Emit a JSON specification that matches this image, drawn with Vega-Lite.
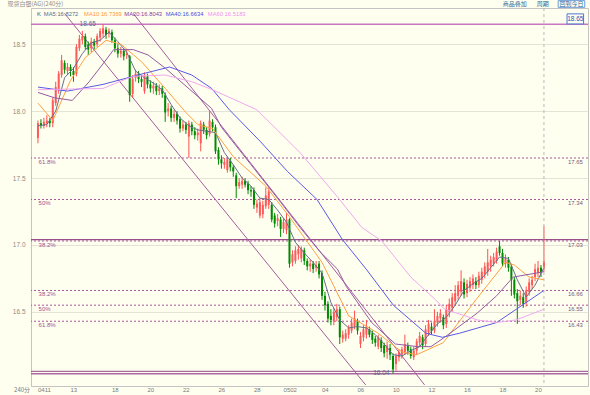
{
"$schema":"https://vega.github.io/schema/vega-lite/v6.json",
"width":557,"height":378,
"autosize":{"type":"none"},
"padding":{"left":31,"top":8,"right":2,"bottom":9},
"background":"#fffff0",
"config":{"view":{"stroke":"#c4c4c4","strokeWidth":1},"axis":{"labelFont":"Liberation Sans"},"text":{"font":"Liberation Sans"}},
"datasets":{
"k":[
{"i":0,"o":17.80,"h":17.93,"l":17.76,"c":17.91},{"i":1,"o":17.91,"h":17.94,"l":17.87,"c":17.89},{"i":2,"o":17.89,"h":17.95,"l":17.87,"c":17.92},{"i":3,"o":17.91,"h":17.97,"l":17.88,"c":17.93},{"i":4,"o":17.93,"h":17.95,"l":17.88,"c":17.91},{"i":5,"o":17.91,"h":18.10,"l":17.88,"c":18.08},{"i":6,"o":18.06,"h":18.22,"l":18.04,"c":18.18},{"i":7,"o":18.16,"h":18.30,"l":18.13,"c":18.28},{"i":8,"o":18.27,"h":18.42,"l":18.25,"c":18.38},{"i":9,"o":18.36,"h":18.38,"l":18.28,"c":18.31},
{"i":10,"o":18.30,"h":18.36,"l":18.27,"c":18.33},{"i":11,"o":18.33,"h":18.35,"l":18.26,"c":18.30},{"i":12,"o":18.30,"h":18.33,"l":18.22,"c":18.27},{"i":13,"o":18.28,"h":18.50,"l":18.26,"c":18.48},{"i":14,"o":18.47,"h":18.57,"l":18.45,"c":18.54},{"i":15,"o":18.53,"h":18.60,"l":18.50,"c":18.56},{"i":16,"o":18.56,"h":18.58,"l":18.46,"c":18.48},{"i":17,"o":18.50,"h":18.52,"l":18.42,"c":18.46},{"i":18,"o":18.47,"h":18.55,"l":18.44,"c":18.52},{"i":19,"o":18.52,"h":18.54,"l":18.46,"c":18.49},
{"i":20,"o":18.50,"h":18.58,"l":18.48,"c":18.56},{"i":21,"o":18.55,"h":18.62,"l":18.52,"c":18.60},{"i":22,"o":18.58,"h":18.65,"l":18.55,"c":18.62},{"i":23,"o":18.61,"h":18.63,"l":18.54,"c":18.57},{"i":24,"o":18.58,"h":18.62,"l":18.55,"c":18.60},{"i":25,"o":18.59,"h":18.61,"l":18.51,"c":18.53},{"i":26,"o":18.53,"h":18.55,"l":18.44,"c":18.47},{"i":27,"o":18.47,"h":18.50,"l":18.40,"c":18.43},{"i":28,"o":18.43,"h":18.48,"l":18.40,"c":18.45},{"i":29,"o":18.45,"h":18.47,"l":18.38,"c":18.41},
{"i":30,"o":18.42,"h":18.46,"l":18.39,"c":18.43},{"i":31,"o":18.41,"h":18.42,"l":18.07,"c":18.12},{"i":32,"o":18.13,"h":18.27,"l":18.10,"c":18.24},{"i":33,"o":18.25,"h":18.31,"l":18.22,"c":18.28},{"i":34,"o":18.28,"h":18.30,"l":18.21,"c":18.24},{"i":35,"o":18.24,"h":18.27,"l":18.18,"c":18.22},{"i":36,"o":18.15,"h":18.29,"l":18.13,"c":18.27},{"i":37,"o":18.26,"h":18.28,"l":18.17,"c":18.20},{"i":38,"o":18.20,"h":18.23,"l":18.14,"c":18.17},{"i":39,"o":18.17,"h":18.22,"l":18.13,"c":18.19},
{"i":40,"o":18.19,"h":18.21,"l":18.12,"c":18.15},{"i":41,"o":18.15,"h":18.20,"l":18.12,"c":18.17},{"i":42,"o":18.17,"h":18.19,"l":18.10,"c":18.13},{"i":43,"o":18.12,"h":18.14,"l":17.92,"c":17.99},{"i":44,"o":18.00,"h":18.06,"l":17.96,"c":18.02},{"i":45,"o":18.02,"h":18.04,"l":17.92,"c":17.95},{"i":46,"o":17.95,"h":18.01,"l":17.92,"c":17.98},{"i":47,"o":17.98,"h":18.00,"l":17.90,"c":17.93},{"i":48,"o":17.94,"h":17.96,"l":17.84,"c":17.87},{"i":49,"o":17.87,"h":17.93,"l":17.85,"c":17.90},
{"i":50,"o":17.90,"h":17.92,"l":17.83,"c":17.86},{"i":51,"o":17.81,"h":17.93,"l":17.65,"c":17.91},{"i":52,"o":17.90,"h":17.92,"l":17.82,"c":17.85},{"i":53,"o":17.85,"h":17.88,"l":17.79,"c":17.82},{"i":54,"o":17.82,"h":17.87,"l":17.78,"c":17.84},{"i":55,"o":17.76,"h":17.93,"l":17.70,"c":17.91},{"i":56,"o":17.90,"h":17.92,"l":17.83,"c":17.86},{"i":57,"o":17.86,"h":17.88,"l":17.79,"c":17.82},{"i":58,"o":17.83,"h":18.00,"l":17.81,"c":17.93},{"i":59,"o":17.92,"h":17.94,"l":17.85,"c":17.88},
{"i":60,"o":17.88,"h":17.90,"l":17.68,"c":17.70},{"i":61,"o":17.71,"h":17.73,"l":17.60,"c":17.64},{"i":62,"o":17.64,"h":17.67,"l":17.57,"c":17.61},{"i":63,"o":17.60,"h":17.65,"l":17.57,"c":17.62},{"i":64,"o":17.56,"h":17.66,"l":17.54,"c":17.64},{"i":65,"o":17.63,"h":17.65,"l":17.55,"c":17.58},{"i":66,"o":17.58,"h":17.60,"l":17.51,"c":17.55},{"i":67,"o":17.52,"h":17.54,"l":17.35,"c":17.44},{"i":68,"o":17.44,"h":17.50,"l":17.42,"c":17.47},{"i":69,"o":17.45,"h":17.51,"l":17.42,"c":17.48},
{"i":70,"o":17.48,"h":17.50,"l":17.43,"c":17.45},{"i":71,"o":17.46,"h":17.48,"l":17.38,"c":17.41},{"i":72,"o":17.41,"h":17.44,"l":17.36,"c":17.40},{"i":73,"o":17.41,"h":17.43,"l":17.27,"c":17.30},{"i":74,"o":17.28,"h":17.34,"l":17.24,"c":17.31},{"i":75,"o":17.22,"h":17.35,"l":17.20,"c":17.32},{"i":76,"o":17.23,"h":17.33,"l":17.20,"c":17.30},{"i":77,"o":17.29,"h":17.43,"l":17.27,"c":17.37},{"i":78,"o":17.30,"h":17.43,"l":17.27,"c":17.40},{"i":79,"o":17.30,"h":17.32,"l":17.17,"c":17.19},
{"i":80,"o":17.22,"h":17.24,"l":17.13,"c":17.16},{"i":81,"o":17.18,"h":17.23,"l":17.14,"c":17.20},{"i":82,"o":17.19,"h":17.21,"l":17.06,"c":17.12},{"i":83,"o":17.12,"h":17.20,"l":17.09,"c":17.17},{"i":84,"o":17.11,"h":17.24,"l":17.08,"c":17.19},{"i":85,"o":17.19,"h":17.20,"l":16.83,"c":16.86},{"i":86,"o":16.87,"h":16.96,"l":16.84,"c":16.93},{"i":87,"o":16.88,"h":16.99,"l":16.86,"c":16.96},{"i":88,"o":16.93,"h":17.00,"l":16.89,"c":16.97},{"i":89,"o":16.90,"h":16.99,"l":16.87,"c":16.97},
{"i":90,"o":16.96,"h":16.98,"l":16.85,"c":16.88},{"i":91,"o":16.88,"h":16.90,"l":16.81,"c":16.84},{"i":92,"o":16.84,"h":16.89,"l":16.80,"c":16.86},{"i":93,"o":16.86,"h":16.88,"l":16.79,"c":16.82},{"i":94,"o":16.83,"h":16.88,"l":16.80,"c":16.85},{"i":95,"o":16.86,"h":16.88,"l":16.75,"c":16.78},{"i":96,"o":16.79,"h":16.81,"l":16.59,"c":16.62},{"i":97,"o":16.62,"h":16.65,"l":16.51,"c":16.55},{"i":98,"o":16.56,"h":16.58,"l":16.42,"c":16.45},{"i":99,"o":16.47,"h":16.52,"l":16.40,"c":16.44},
{"i":100,"o":16.43,"h":16.53,"l":16.40,"c":16.50},{"i":101,"o":16.46,"h":16.56,"l":16.43,"c":16.52},{"i":102,"o":16.52,"h":16.54,"l":16.26,"c":16.31},{"i":103,"o":16.30,"h":16.36,"l":16.27,"c":16.33},{"i":104,"o":16.30,"h":16.37,"l":16.28,"c":16.34},{"i":105,"o":16.33,"h":16.40,"l":16.30,"c":16.38},{"i":106,"o":16.36,"h":16.45,"l":16.34,"c":16.42},{"i":107,"o":16.39,"h":16.51,"l":16.37,"c":16.45},{"i":108,"o":16.43,"h":16.45,"l":16.33,"c":16.36},{"i":109,"o":16.26,"h":16.35,"l":16.23,"c":16.32},
{"i":110,"o":16.31,"h":16.40,"l":16.28,"c":16.37},{"i":111,"o":16.33,"h":16.44,"l":16.30,"c":16.39},{"i":112,"o":16.37,"h":16.39,"l":16.31,"c":16.33},{"i":113,"o":16.34,"h":16.36,"l":16.26,"c":16.29},{"i":114,"o":16.30,"h":16.32,"l":16.24,"c":16.27},{"i":115,"o":16.24,"h":16.33,"l":16.22,"c":16.31},{"i":116,"o":16.29,"h":16.31,"l":16.20,"c":16.23},{"i":117,"o":16.25,"h":16.27,"l":16.16,"c":16.19},{"i":118,"o":16.20,"h":16.28,"l":16.15,"c":16.25},{"i":119,"o":16.23,"h":16.26,"l":16.14,"c":16.18},
{"i":120,"o":16.17,"h":16.19,"l":16.04,"c":16.07},{"i":121,"o":16.11,"h":16.19,"l":16.06,"c":16.17},{"i":122,"o":16.16,"h":16.22,"l":16.13,"c":16.20},{"i":123,"o":16.18,"h":16.24,"l":16.15,"c":16.22},{"i":124,"o":16.20,"h":16.33,"l":16.18,"c":16.26},{"i":125,"o":16.25,"h":16.27,"l":16.18,"c":16.21},{"i":126,"o":16.22,"h":16.24,"l":16.15,"c":16.17},{"i":127,"o":16.16,"h":16.24,"l":16.14,"c":16.21},{"i":128,"o":16.21,"h":16.30,"l":16.18,"c":16.28},{"i":129,"o":16.27,"h":16.35,"l":16.24,"c":16.32},
{"i":130,"o":16.31,"h":16.33,"l":16.22,"c":16.25},{"i":131,"o":16.26,"h":16.40,"l":16.24,"c":16.37},{"i":132,"o":16.35,"h":16.44,"l":16.32,"c":16.41},{"i":133,"o":16.39,"h":16.42,"l":16.33,"c":16.36},{"i":134,"o":16.36,"h":16.52,"l":16.34,"c":16.43},{"i":135,"o":16.42,"h":16.50,"l":16.39,"c":16.47},{"i":136,"o":16.45,"h":16.52,"l":16.42,"c":16.49},{"i":137,"o":16.46,"h":16.48,"l":16.37,"c":16.40},{"i":138,"o":16.41,"h":16.55,"l":16.38,"c":16.52},{"i":139,"o":16.50,"h":16.60,"l":16.46,"c":16.56},
{"i":140,"o":16.53,"h":16.64,"l":16.50,"c":16.61},{"i":141,"o":16.58,"h":16.70,"l":16.55,"c":16.64},{"i":142,"o":16.62,"h":16.73,"l":16.59,"c":16.70},{"i":143,"o":16.65,"h":16.81,"l":16.62,"c":16.73},{"i":144,"o":16.72,"h":16.75,"l":16.60,"c":16.63},{"i":145,"o":16.64,"h":16.74,"l":16.61,"c":16.71},{"i":146,"o":16.68,"h":16.76,"l":16.65,"c":16.73},{"i":147,"o":16.70,"h":16.78,"l":16.67,"c":16.75},{"i":148,"o":16.73,"h":16.76,"l":16.67,"c":16.70},{"i":149,"o":16.70,"h":16.80,"l":16.68,"c":16.77},
{"i":150,"o":16.74,"h":16.83,"l":16.71,"c":16.80},{"i":151,"o":16.78,"h":16.87,"l":16.75,"c":16.84},{"i":152,"o":16.80,"h":16.97,"l":16.77,"c":16.87},{"i":153,"o":16.84,"h":16.92,"l":16.80,"c":16.89},{"i":154,"o":16.86,"h":16.94,"l":16.84,"c":16.91},{"i":155,"o":16.88,"h":16.98,"l":16.86,"c":16.95},{"i":156,"o":16.99,"h":17.03,"l":16.92,"c":16.94},{"i":157,"o":16.94,"h":16.97,"l":16.84,"c":16.86},{"i":158,"o":16.86,"h":16.93,"l":16.83,"c":16.90},{"i":159,"o":16.89,"h":16.91,"l":16.80,"c":16.83},
{"i":160,"o":16.84,"h":16.86,"l":16.62,"c":16.74},{"i":161,"o":16.74,"h":16.76,"l":16.60,"c":16.63},{"i":162,"o":16.64,"h":16.67,"l":16.41,"c":16.58},{"i":163,"o":16.59,"h":16.66,"l":16.55,"c":16.62},{"i":164,"o":16.61,"h":16.64,"l":16.53,"c":16.56},{"i":165,"o":16.57,"h":16.69,"l":16.54,"c":16.66},{"i":166,"o":16.65,"h":16.75,"l":16.62,"c":16.72},{"i":167,"o":16.70,"h":16.77,"l":16.67,"c":16.74},{"i":168,"o":16.76,"h":16.86,"l":16.73,"c":16.82},{"i":169,"o":16.79,"h":16.88,"l":16.76,"c":16.83},
{"i":170,"o":16.83,"h":16.85,"l":16.76,"c":16.79},{"i":171,"o":16.82,"h":17.14,"l":16.80,"c":16.88}
],
"ma":[
{"s":"MA5","i":0,"v":17.89},{"s":"MA5","i":3,"v":17.90},{"s":"MA5","i":6,"v":18.00},{"s":"MA5","i":9,"v":18.25},{"s":"MA5","i":12,"v":18.32},{"s":"MA5","i":15,"v":18.43},{"s":"MA5","i":18,"v":18.51},{"s":"MA5","i":21,"v":18.53},{"s":"MA5","i":24,"v":18.59},{"s":"MA5","i":27,"v":18.52},{"s":"MA5","i":30,"v":18.44},{"s":"MA5","i":33,"v":18.30},{"s":"MA5","i":36,"v":18.25},{"s":"MA5","i":39,"v":18.21},{"s":"MA5","i":42,"v":18.16},{"s":"MA5","i":45,"v":18.05},{"s":"MA5","i":48,"v":17.95},{"s":"MA5","i":51,"v":17.89},{"s":"MA5","i":54,"v":17.86},{"s":"MA5","i":57,"v":17.85},{"s":"MA5","i":60,"v":17.84},{"s":"MA5","i":63,"v":17.69},{"s":"MA5","i":66,"v":17.60},{"s":"MA5","i":69,"v":17.50},{"s":"MA5","i":72,"v":17.44},{"s":"MA5","i":75,"v":17.35},{"s":"MA5","i":78,"v":17.34},{"s":"MA5","i":81,"v":17.26},{"s":"MA5","i":84,"v":17.17},{"s":"MA5","i":87,"v":17.02},{"s":"MA5","i":90,"v":16.94},{"s":"MA5","i":93,"v":16.87},{"s":"MA5","i":96,"v":16.79},{"s":"MA5","i":99,"v":16.57},{"s":"MA5","i":102,"v":16.44},{"s":"MA5","i":105,"v":16.38},{"s":"MA5","i":108,"v":16.39},{"s":"MA5","i":111,"v":16.38},{"s":"MA5","i":114,"v":16.33},{"s":"MA5","i":117,"v":16.26},{"s":"MA5","i":120,"v":16.18},{"s":"MA5","i":123,"v":16.17},{"s":"MA5","i":126,"v":16.21},{"s":"MA5","i":129,"v":16.24},{"s":"MA5","i":132,"v":16.33},{"s":"MA5","i":135,"v":16.41},{"s":"MA5","i":138,"v":16.46},{"s":"MA5","i":141,"v":16.55},{"s":"MA5","i":144,"v":16.66},{"s":"MA5","i":147,"v":16.71},{"s":"MA5","i":150,"v":16.75},{"s":"MA5","i":153,"v":16.83},{"s":"MA5","i":156,"v":16.91},{"s":"MA5","i":159,"v":16.90},{"s":"MA5","i":162,"v":16.74},{"s":"MA5","i":165,"v":16.61},{"s":"MA5","i":168,"v":16.70},{"s":"MA5","i":171,"v":16.83},
{"s":"MA10","i":0,"v":18.06},{"s":"MA10","i":5,"v":17.93},{"s":"MA10","i":11,"v":18.23},{"s":"MA10","i":16,"v":18.40},{"s":"MA10","i":23,"v":18.53},{"s":"MA10","i":28,"v":18.50},{"s":"MA10","i":35,"v":18.37},{"s":"MA10","i":43,"v":18.17},{"s":"MA10","i":50,"v":17.99},{"s":"MA10","i":54,"v":17.90},{"s":"MA10","i":59,"v":17.87},{"s":"MA10","i":66,"v":17.66},{"s":"MA10","i":77,"v":17.44},{"s":"MA10","i":85,"v":17.21},{"s":"MA10","i":96,"v":16.87},{"s":"MA10","i":105,"v":16.47},{"s":"MA10","i":115,"v":16.34},{"s":"MA10","i":123,"v":16.20},{"s":"MA10","i":128,"v":16.18},{"s":"MA10","i":137,"v":16.27},{"s":"MA10","i":139,"v":16.33},{"s":"MA10","i":148,"v":16.59},{"s":"MA10","i":158,"v":16.87},{"s":"MA10","i":161,"v":16.85},{"s":"MA10","i":166,"v":16.76},{"s":"MA10","i":171,"v":16.74},
{"s":"MA20","i":0,"v":18.14},{"s":"MA20","i":5.6,"v":18.10},{"s":"MA20","i":11.6,"v":18.08},{"s":"MA20","i":17.3,"v":18.22},{"s":"MA20","i":22.2,"v":18.36},{"s":"MA20","i":25.6,"v":18.46},{"s":"MA20","i":32.2,"v":18.46},{"s":"MA20","i":37.2,"v":18.42},{"s":"MA20","i":43.1,"v":18.32},{"s":"MA20","i":50.4,"v":18.18},{"s":"MA20","i":58.7,"v":18.02},{"s":"MA20","i":62,"v":17.88},{"s":"MA20","i":72,"v":17.60},{"s":"MA20","i":82,"v":17.32},{"s":"MA20","i":88.6,"v":17.13},{"s":"MA20","i":95.3,"v":16.95},{"s":"MA20","i":101.2,"v":16.82},{"s":"MA20","i":104.2,"v":16.69},{"s":"MA20","i":112.8,"v":16.42},{"s":"MA20","i":120.8,"v":16.26},{"s":"MA20","i":128.4,"v":16.24},{"s":"MA20","i":132.8,"v":16.24},{"s":"MA20","i":137.4,"v":16.31},{"s":"MA20","i":148.4,"v":16.49},{"s":"MA20","i":155,"v":16.62},{"s":"MA20","i":160.6,"v":16.76},{"s":"MA20","i":171,"v":16.80},
{"s":"MA40","i":0,"v":18.18},{"s":"MA40","i":10,"v":18.15},{"s":"MA40","i":22,"v":18.20},{"s":"MA40","i":35.5,"v":18.28},{"s":"MA40","i":44.5,"v":18.33},{"s":"MA40","i":52,"v":18.27},{"s":"MA40","i":58.7,"v":18.17},{"s":"MA40","i":64.7,"v":18.01},{"s":"MA40","i":75.3,"v":17.77},{"s":"MA40","i":84.3,"v":17.55},{"s":"MA40","i":94.3,"v":17.34},{"s":"MA40","i":102.9,"v":17.04},{"s":"MA40","i":110.9,"v":16.82},{"s":"MA40","i":120.1,"v":16.55},{"s":"MA40","i":131.1,"v":16.34},{"s":"MA40","i":136.7,"v":16.31},{"s":"MA40","i":142.4,"v":16.34},{"s":"MA40","i":155,"v":16.42},{"s":"MA40","i":171,"v":16.66},
{"s":"MA60","i":0,"v":18.16},{"s":"MA60","i":22,"v":18.17},{"s":"MA60","i":32,"v":18.26},{"s":"MA60","i":43,"v":18.27},{"s":"MA60","i":52,"v":18.22},{"s":"MA60","i":59,"v":18.16},{"s":"MA60","i":74,"v":18.01},{"s":"MA60","i":88.6,"v":17.69},{"s":"MA60","i":101.2,"v":17.36},{"s":"MA60","i":109.5,"v":17.13},{"s":"MA60","i":116.2,"v":17.03},{"s":"MA60","i":126,"v":16.76},{"s":"MA60","i":134.4,"v":16.59},{"s":"MA60","i":137.4,"v":16.52},{"s":"MA60","i":144.4,"v":16.47},{"s":"MA60","i":148.4,"v":16.44},{"s":"MA60","i":155,"v":16.42},{"s":"MA60","i":161.6,"v":16.44},{"s":"MA60","i":171,"v":16.52}
],
"fib":[{"v":17.65,"pct":"61.8%"},{"v":17.34,"pct":"50%"},{"v":17.03,"pct":"38.2%"},{"v":16.66,"pct":"38.2%"},{"v":16.55,"pct":"50%"},{"v":16.43,"pct":"61.8%"}],
"levels":[{"v":18.65,"k":"top"},{"v":17.04,"k":"mid"},{"v":16.055,"k":"low"},{"v":16.037,"k":"low"}],
"chan":[{"ln":"L1","i":8.96,"p":18.731},{"ln":"L1","i":110.75,"p":15.954},{"ln":"L2","i":32.19,"p":18.731},{"ln":"L2","i":130.67,"p":15.954}],
"dates":[{"i":0,"t":"0411"},{"i":11,"t":"13"},{"i":25,"t":"18"},{"i":37,"t":"20"},{"i":49,"t":"22"},{"i":61,"t":"26"},{"i":73,"t":"28"},{"i":83,"t":"0502"},{"i":96,"t":"04"},{"i":108,"t":"06"},{"i":120,"t":"10"},{"i":132,"t":"12"},{"i":144,"t":"16"},{"i":156,"t":"18"},{"i":168,"t":"20"}]
},
"layer":[
{"data":{"name":"fib"},"mark":{"type":"rule","color":"#a4589a","strokeDash":[2,2],"strokeWidth":1},
 "encoding":{"y":{"field":"v","type":"quantitative","title":null}}},
{"data":{"name":"levels"},"mark":{"type":"rule","strokeWidth":1.4},
 "encoding":{"y":{"field":"v","type":"quantitative","title":null},"stroke":{"field":"k","type":"nominal","legend":null,"scale":{"domain":["top","mid","low"],"range":["#c878c0","#985088","#a86aa0"]}}}},
{"data":{"name":"chan"},"mark":{"type":"line","color":"#a45c9c","strokeWidth":1},
 "encoding":{"x":{"field":"i","type":"quantitative","title":null},"y":{"field":"p","type":"quantitative","title":null},"detail":{"field":"ln"}}},
{"data":{"name":"k"},"mark":{"type":"rule","strokeWidth":1},
 "encoding":{
  "x":{"field":"i","type":"quantitative","title":null,"scale":{"domain":[-0.664,184.2],"nice":false,"zero":false},
   "axis":{"title":null,"labels":false,"ticks":false,"grid":false,"domainColor":"#c4c4c4"}},
  "y":{"field":"l","type":"quantitative","title":null,"scale":{"domain":[15.946,18.771],"nice":false,"zero":false},
   "axis":{"title":null,"values":[16.5,17,17.5,18,18.5],"format":".1f","ticks":false,"grid":true,"gridColor":"#e4e4d6","domainColor":"#c4c4c4","labelColor":"#8a8a8a","labelFontSize":6.5,"labelPadding":6}},
  "y2":{"field":"h"},
  "color":{"condition":{"test":"datum.c >= datum.o","value":"#ff5050"},"value":"#008a00"}}},
{"data":{"name":"k"},"mark":{"type":"bar","width":2},
 "encoding":{"x":{"field":"i","type":"quantitative","title":null},"y":{"field":"o","type":"quantitative","title":null},"y2":{"field":"c"},
  "color":{"condition":{"test":"datum.c >= datum.o","value":"#ff5a5a"},"value":"#008a00"}}},
{"data":{"name":"ma"},"mark":{"type":"line","strokeWidth":1},
 "encoding":{"x":{"field":"i","type":"quantitative","title":null},"y":{"field":"v","type":"quantitative","title":null},
  "color":{"field":"s","type":"nominal","legend":null,"scale":{"domain":["MA5","MA10","MA20","MA40","MA60"],"range":["#64708c","#ffa040","#945aa2","#5a5ae6","#f0a8f0"]}}}},
{"data":{"values":[{}]},"mark":{"type":"rule","color":"#b8b8b8","strokeDash":[3,3],"strokeWidth":1},
 "encoding":{"x":{"datum":171,"type":"quantitative"}}},
{"data":{"name":"dates"},"mark":{"type":"text","align":"left","baseline":"middle","fontSize":6,"color":"#7a7a7a"},
 "encoding":{"x":{"field":"i","type":"quantitative","title":null},"y":{"datum":15.916,"type":"quantitative"},"text":{"field":"t"}}},
{"data":{"name":"fib"},"mark":{"type":"text","align":"left","baseline":"top","dy":1,"fontSize":6,"color":"#a0508e"},
 "encoding":{"x":{"datum":0.2,"type":"quantitative"},"y":{"field":"v","type":"quantitative","title":null},"text":{"field":"pct"}}},
{"data":{"name":"fib"},"mark":{"type":"text","align":"left","baseline":"top","dy":1,"fontSize":6,"color":"#7a5a7a"},
 "encoding":{"x":{"datum":179.1,"type":"quantitative"},"y":{"field":"v","type":"quantitative","title":null},"text":{"field":"v","format":".2f"}}},
{"data":{"values":[{}]},"mark":{"type":"rect","fill":"#fffff0","stroke":"#4a78d8","strokeWidth":1},
 "encoding":{"x":{"datum":178.8,"type":"quantitative"},"x2":{"datum":184.4},"y":{"datum":18.727,"type":"quantitative"},"y2":{"datum":18.652}}},
{"data":{"values":[{}]},"mark":{"type":"text","align":"center","baseline":"middle","fontSize":6.5,"color":"#2850c0","text":"18.65"},
 "encoding":{"x":{"datum":181.6,"type":"quantitative"},"y":{"datum":18.69,"type":"quantitative"}}},
{"data":{"values":[{}]},"mark":{"type":"text","align":"right","baseline":"middle","fontSize":6.5,"color":"#5a6a8a","text":"18.65"},
 "encoding":{"x":{"datum":19.58,"type":"quantitative"},"y":{"datum":18.65,"type":"quantitative"}}},
{"data":{"values":[{}]},"mark":{"type":"text","align":"right","baseline":"middle","fontSize":6.5,"color":"#5a6a8a","text":"16.04"},
 "encoding":{"x":{"datum":118.8,"type":"quantitative"},"y":{"datum":16.045,"type":"quantitative"}}},
{"data":{"values":[{}]},"mark":{"type":"text","align":"right","baseline":"middle","fontSize":6,"font":"Noto Sans CJK SC","color":"#7a7a7a","text":"240分"},
 "encoding":{"x":{"datum":-2.66,"type":"quantitative"},"y":{"datum":15.916,"type":"quantitative"}}},
{"data":{"values":[{}]},"mark":{"type":"text","align":"left","baseline":"middle","fontSize":6,"font":"Noto Sans CJK SC","color":"#8c8c8c","text":"现货白银(AG)(240分)"},
 "encoding":{"x":{"datum":-10.29,"type":"quantitative"},"y":{"datum":18.80,"type":"quantitative"}}},
{"data":{"values":[{}]},"mark":{"type":"text","align":"center","baseline":"middle","fontSize":6,"font":"Noto Sans CJK SC","color":"#2a6a9a","text":"商品叠加"},
 "encoding":{"x":{"datum":161.13,"type":"quantitative"},"y":{"datum":18.80,"type":"quantitative"}}},
{"data":{"values":[{}]},"mark":{"type":"text","align":"center","baseline":"middle","fontSize":6,"font":"Noto Sans CJK SC","color":"#2a6a9a","text":"周期"},
 "encoding":{"x":{"datum":170.6,"type":"quantitative"},"y":{"datum":18.80,"type":"quantitative"}}},
{"data":{"values":[{}]},"mark":{"type":"rect","fill":"#fffff0","stroke":"#6a9ad8","strokeWidth":1},
 "encoding":{"x":{"datum":175.8,"type":"quantitative"},"x2":{"datum":184.8},"y":{"datum":18.826,"type":"quantitative"},"y2":{"datum":18.776}}},
{"data":{"values":[{}]},"mark":{"type":"text","align":"center","baseline":"middle","fontSize":6,"font":"Noto Sans CJK SC","color":"#2a6aa8","text":"回到今日"},
 "encoding":{"x":{"datum":180.3,"type":"quantitative"},"y":{"datum":18.80,"type":"quantitative"}}},
{"data":{"values":[{}]},"mark":{"type":"text","align":"left","baseline":"middle","fontSize":6,"color":"#555555","text":"K"},
 "encoding":{"x":{"datum":-0.33,"type":"quantitative"},"y":{"datum":18.726,"type":"quantitative"}}},
{"data":{"values":[{}]},"mark":{"type":"text","align":"left","baseline":"middle","fontSize":5.8,"color":"#5a6a8a","text":"MA5:16.8272"},
 "encoding":{"x":{"datum":1.99,"type":"quantitative"},"y":{"datum":18.726,"type":"quantitative"}}},
{"data":{"values":[{}]},"mark":{"type":"text","align":"left","baseline":"middle","fontSize":5.8,"color":"#ff9a30","text":"MA10:16.7369"},
 "encoding":{"x":{"datum":15.6,"type":"quantitative"},"y":{"datum":18.726,"type":"quantitative"}}},
{"data":{"values":[{}]},"mark":{"type":"text","align":"left","baseline":"middle","fontSize":5.8,"color":"#8a3a9a","text":"MA20:16.8043"},
 "encoding":{"x":{"datum":29.2,"type":"quantitative"},"y":{"datum":18.726,"type":"quantitative"}}},
{"data":{"values":[{}]},"mark":{"type":"text","align":"left","baseline":"middle","fontSize":5.8,"color":"#4a4ae0","text":"MA40:16.6634"},
 "encoding":{"x":{"datum":43.15,"type":"quantitative"},"y":{"datum":18.726,"type":"quantitative"}}},
{"data":{"values":[{}]},"mark":{"type":"text","align":"left","baseline":"middle","fontSize":5.8,"color":"#f090f0","text":"MA60:16.5183"},
 "encoding":{"x":{"datum":57.42,"type":"quantitative"},"y":{"datum":18.726,"type":"quantitative"}}}
]
}
